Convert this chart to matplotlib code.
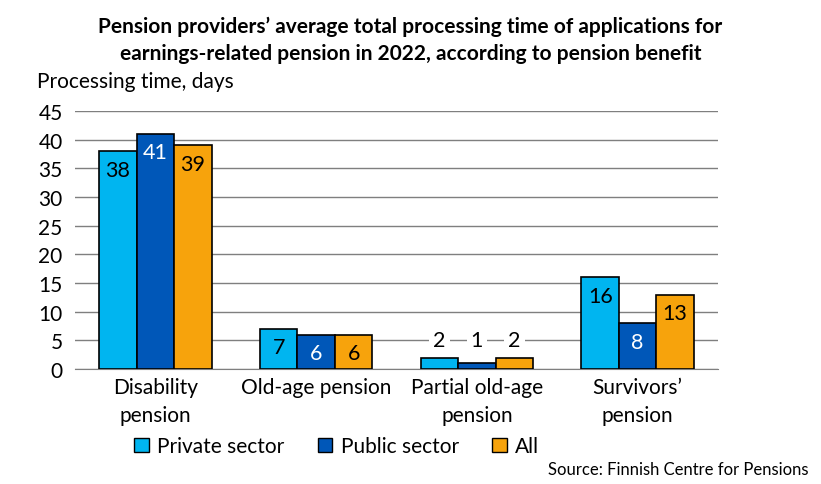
import matplotlib.pyplot as plt
import numpy as np
from matplotlib.patches import Patch

plt.rcParams['font.family'] = ['Lato', 'DejaVu Sans']

categories = ['Disability\npension', 'Old-age pension', 'Partial old-age\npension', 'Survivors\u2019\npension']
series_names = ['Private sector', 'Public sector', 'All']
private = [38, 7, 2, 16]
public = [41, 6, 1, 8]
all_sectors = [39, 6, 2, 13]
yticks = [0, 5, 10, 15, 20, 25, 30, 35, 40, 45]

colors = ['#00B5F0', '#0057B8', '#F7A30C']
text_colors = ['black', 'white', 'black']

fig = plt.figure(figsize=(8.21, 4.85), dpi=100)
ax = fig.add_axes([0.0914, 0.237, 0.7832, 0.532])

x = np.arange(len(categories))
w = 0.233
for i, vals in enumerate([private, public, all_sectors]):
    xs = x + (i - 1) * w
    ax.bar(xs, vals, w, color=colors[i], edgecolor='black', linewidth=1.2, zorder=3)
    for xi, v in zip(xs, vals):
        if v >= 4:
            ax.annotate(str(v), (xi, v), xytext=(0, -6), textcoords='offset points',
                        ha='center', va='top', fontsize=15.5, color=text_colors[i], zorder=4)
        else:
            ax.text(xi, 5, str(v), ha='center', va='center', fontsize=15.5, color='black',
                    bbox=dict(facecolor='white', edgecolor='none', pad=3), zorder=4)

ax.set_xlim(-0.5, len(categories) - 0.5)
ax.set_ylim(0, 45)
ax.set_yticks(yticks)
ax.set_xticks(x)
ax.set_xticklabels(categories, fontsize=15, linespacing=1.45)
ax.tick_params(axis='both', length=0, labelsize=15)
ax.tick_params(axis='y', pad=9)
ax.tick_params(axis='x', pad=6)
ax.yaxis.grid(True, color='#7f7f7f', linewidth=1, zorder=0)
for s in ['top', 'right', 'left']:
    ax.spines[s].set_visible(False)
ax.spines['bottom'].set_color('#7f7f7f')

fig.text(0.5, 0.965, 'Pension providers\u2019 average total processing time of applications for\n'
         'earnings-related pension in 2022, according to pension benefit',
         ha='center', va='top', fontsize=15, fontweight='bold', linespacing=1.45)
fig.text(0.045, 0.831, 'Processing time, days', ha='left', va='center', fontsize=15)

handles = [Patch(facecolor=c, edgecolor='black', linewidth=1) for c in colors]
fig.legend(handles, series_names, loc='center', bbox_to_anchor=(0.41, 0.078), ncol=3,
           frameon=False, fontsize=15, handlelength=0.7, handleheight=0.7,
           handletextpad=0.4, columnspacing=1.6)
fig.text(0.985, 0.031, 'Source: Finnish Centre for Pensions', ha='right', va='center', fontsize=12)

fig.savefig('out.png', dpi=100)
